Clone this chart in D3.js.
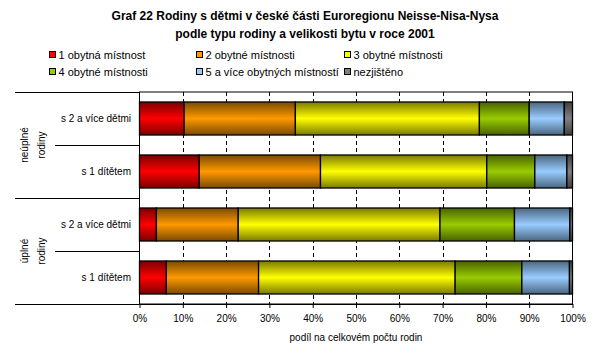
<!DOCTYPE html>
<html><head><meta charset="utf-8">
<script src="https://cdn.jsdelivr.net/npm/d3@7"></script>
<style>
body{margin:0;background:#fff;}
svg{font-family:"Liberation Sans",Arial,sans-serif;}
</style></head><body>
<svg id="c" width="610" height="353"></svg>
<script>
const categories = ["s 2 a více dětmi", "s 1 dítětem", "s 2 a více dětmi", "s 1 dítětem"];
const groups = [["neúplné","rodiny"], ["úplné","rodiny"]];
const seriesNames = ["1 obytná místnost","2 obytné místnosti","3 obytné místnosti","4 obytné místnosti","5 a více obytných místností","nezjištěno"];
const s1 = [10.3, 13.8, 3.9, 6.2];
const s2 = [25.7, 28.0, 18.9, 21.3];
const s3 = [42.5, 38.4, 46.6, 45.4];
const s4 = [11.5, 11.1, 17.2, 15.4];
const s5 = [8.1, 7.4, 12.8, 11.0];
const s6 = [1.9, 1.3, 0.6, 0.7];
const tickValues = [0,10,20,30,40,50,60,70,80,90,100];
const colors = [["#FF0000","#7a0000"],["#FF9900","#7a4a00"],["#FFFF00","#7a7a00"],["#99CC00","#496200"],["#99CCFF","#4a6680"],["#808080","#404040"]];

const svg = d3.select("#c");
const L=139.5, R=572.5, T=92, B=304;
const keys = d3.range(categories.length);
const x = d3.scaleLinear().domain([0,100]).range([L,R]);
const y = d3.scaleBand().domain(keys).range([T,B]).paddingInner(0.377).paddingOuter(0.1885);

const defs = svg.append("defs");
colors.forEach((c,i)=>{
  const g = defs.append("linearGradient").attr("id","g"+i).attr("x1",0).attr("y1",0).attr("x2",0).attr("y2",1);
  g.append("stop").attr("offset","0%").attr("stop-color",c[1]);
  g.append("stop").attr("offset","50%").attr("stop-color",c[0]);
  g.append("stop").attr("offset","100%").attr("stop-color",c[1]);
});

// title
svg.append("text").attr("x",305).attr("y",20).attr("text-anchor","middle").attr("font-size",12).attr("font-weight","bold").text("Graf 22 Rodiny s dětmi v české části Euroregionu Neisse-Nisa-Nysa");
svg.append("text").attr("x",305).attr("y",38).attr("text-anchor","middle").attr("font-size",12).attr("font-weight","bold").text("podle typu rodiny a velikosti bytu v roce 2001");

// legend
const legX=[49.5,196.5,344.5], legY=[55,72];
seriesNames.forEach((n,i)=>{
  const lx=legX[i%3], ly=legY[Math.floor(i/3)];
  svg.append("rect").attr("x",lx).attr("y",ly-3.5).attr("width",6).attr("height",6).attr("fill",colors[i][0]).attr("stroke","#000");
  svg.append("text").attr("x",lx+9).attr("y",ly+4).attr("font-size",11).text(n);
});

// gridlines
svg.append("g").selectAll("line").data(tickValues.slice(1,-1)).join("line")
  .attr("x1",d=>Math.round(x(d))+0.5).attr("x2",d=>Math.round(x(d))+0.5).attr("y1",T).attr("y2",B)
  .attr("stroke","#000").attr("stroke-dasharray","4,3");

// bars
const data = keys.map(k=>({k, v:[s1[k],s2[k],s3[k],s4[k],s5[k],s6[k]]}));
const stacked = d3.stack().keys(d3.range(6)).value((d,key)=>d.v[key])(data);
stacked.forEach((layer,i)=>{
  svg.append("g").selectAll("rect").data(layer).join("rect")
    .attr("x",d=>x(d[0])).attr("width",d=>x(d[1])-x(d[0]))
    .attr("y",d=>y(d.data.k)).attr("height",y.bandwidth())
    .attr("fill","url(#g"+i+")").attr("stroke","#000").attr("stroke-width",1.3);
});

// plot border
svg.append("rect").attr("x",L).attr("y",T).attr("width",R-L).attr("height",B-T).attr("fill","none").attr("stroke","#000");

// x axis
const xa = svg.append("g").attr("transform",`translate(0,${B})`)
  .call(d3.axisBottom(x).tickValues(tickValues).tickFormat(d=>d+"%").tickSize(4).tickSizeOuter(0));
xa.select(".domain").attr("stroke","#000");
xa.selectAll("text").attr("font-size",10).attr("font-family","Liberation Sans, Arial").attr("dy","1.1em");
svg.append("text").attr("x",(L+R)/2).attr("y",341).attr("text-anchor","middle").attr("font-size",10).text("podíl na celkovém počtu rodin");

// category labels
svg.append("g").selectAll("text").data(keys).join("text")
  .attr("x",131).attr("y",d=>y(d)+y.bandwidth()/2+3.5).attr("text-anchor","end").attr("font-size",10).text(d=>categories[d]);

// left multi-level axis lines
const step = y.step();
[T, T+2*step, B].forEach(v=>svg.append("line").attr("x1",15).attr("x2",L).attr("y1",Math.round(v)+0.5).attr("y2",Math.round(v)+0.5).attr("stroke","#000"));
[T+step, T+3*step].forEach(v=>svg.append("line").attr("x1",55).attr("x2",L).attr("y1",Math.round(v)+0.5).attr("y2",Math.round(v)+0.5).attr("stroke","#000"));

// group labels
groups.forEach((g,i)=>{
  const cy = T + (2*i+1)*step;
  const t = svg.append("text").attr("transform",`translate(32,${cy}) rotate(-90)`).attr("text-anchor","middle").attr("font-size",10);
  t.append("tspan").attr("x",0).attr("y",-4).text(g[0]);
  t.append("tspan").attr("x",0).attr("y",13).text(g[1]);
});
</script></body></html>
